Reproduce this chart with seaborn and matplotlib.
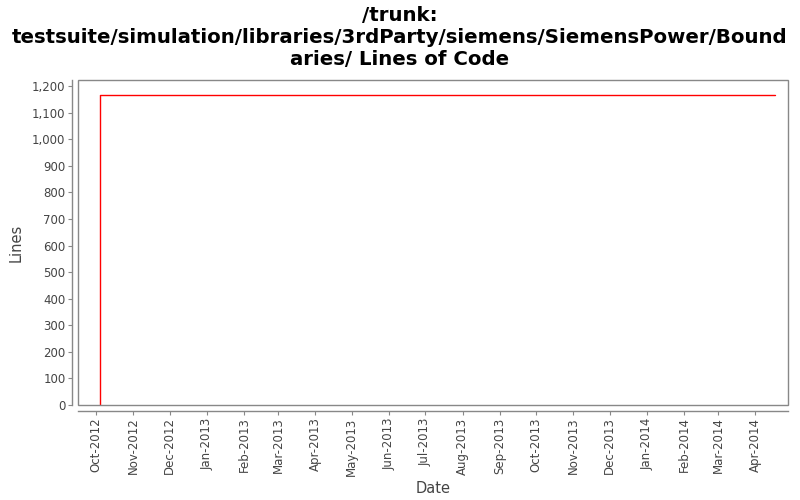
import matplotlib
matplotlib.use("Agg")
import matplotlib.pyplot as plt
import matplotlib.dates as mdates
from matplotlib.patches import Rectangle
from matplotlib.ticker import FuncFormatter, MultipleLocator
import seaborn as sns
import pandas as pd

sns.set_theme(style="white")
plt.rcParams['font.family'] = ['DejaVu Sans']

# data
dates = ["2012-09-27", "2012-10-04", "2014-04-17"]
lines = [0, 1168, 1168]
title = "/trunk:\ntestsuite/simulation/libraries/3rdParty/siemens/SiemensPower/Bound\naries/ Lines of Code"
month_ticks = pd.date_range("2012-10-01", "2014-04-01", freq="MS")

df = pd.DataFrame({"Date": pd.to_datetime(dates), "Lines": lines})

fig = plt.figure(figsize=(8, 5), dpi=100)
ax = fig.add_axes([0.0975, 0.19, 0.8875, 0.65])

# short segment at zero before first step
ax.plot(df["Date"].iloc[:2], [0, 0], color="#8b0000", lw=0.6, zorder=3)
sns.lineplot(data=df.iloc[1:], x="Date", y="Lines", ax=ax, color="#ff0000",
             lw=1.0, drawstyle="steps-post", zorder=4)
ax.vlines(df["Date"].iloc[1], 0, lines[1], color="#ff0000", lw=1.0, zorder=4)

ax.set_xlim(pd.Timestamp("2012-09-16"), pd.Timestamp("2014-04-28"))
ax.set_ylim(0, 1223)

ax.set_xticks(month_ticks)
ax.xaxis.set_major_formatter(mdates.DateFormatter("%b-%Y"))
ax.yaxis.set_major_locator(MultipleLocator(100))
ax.yaxis.set_major_formatter(FuncFormatter(lambda v, p: f"{int(v):,}"))

ax.tick_params(axis="both", which="major", direction="out", length=3, width=0.8,
               color="#888888", bottom=True, left=True, pad=2,
               labelsize=8.5, labelcolor="#444444")
ax.tick_params(axis="x", labelrotation=90)

for s in ["top", "right"]:
    ax.spines[s].set_visible(False)
for s in ["left", "bottom"]:
    ax.spines[s].set_position(("outward", 4))
    ax.spines[s].set_color("#888888")
    ax.spines[s].set_linewidth(1.0)

# plot box
ax.add_patch(Rectangle((0, 0), 1, 1, transform=ax.transAxes, fill=False,
                       edgecolor="#888888", lw=1.0, clip_on=False, zorder=5))

ax.set_xlabel("Date", fontsize=10.5, color="#444444", labelpad=4)
ax.set_ylabel("Lines", fontsize=10.5, color="#444444", labelpad=6)

fig.suptitle(title, fontsize=14.2, fontweight="bold", color="black",
             y=0.988, linespacing=1.2)

fig.savefig("out.png", dpi=100)
